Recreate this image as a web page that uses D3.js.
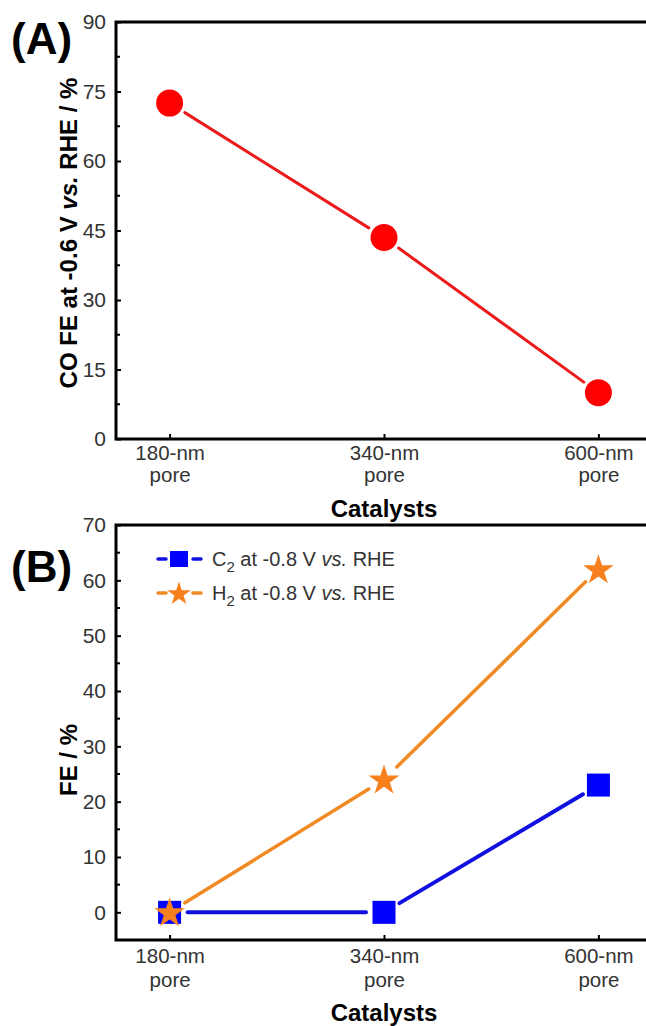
<!DOCTYPE html>
<html>
<head>
<meta charset="utf-8">
<script src="https://cdn.jsdelivr.net/npm/d3@7"></script>
<style>
  body { margin: 0; background: #fff; }
  svg { font-family: "Liberation Sans", Arial, sans-serif; }
  .tick text { fill: #333; font-size: 21px; }
</style>
</head>
<body>
<svg id="chart" width="646" height="1026"></svg>
<script>
var catalysts = ["180-nm pore", "340-nm pore", "600-nm pore"];
var coFE = [72.5, 43.5, 10];
var c2FE = [0, 0, 23];
var h2FE = [0, 24, 62];
var ticksA = [0, 15, 30, 45, 60, 75, 90];
var ticksB = [0, 10, 20, 30, 40, 50, 60, 70];

var svg = d3.select("#chart");

var x = d3.scalePoint().domain(catalysts).range([116, 652]).padding(0.25);

// lines stop short of the markers, like the original plot
function segments(g, vals, y, color, width) {
  for (var i = 0; i < vals.length - 1; i++) {
    var x1 = x(catalysts[i]), y1 = y(vals[i]);
    var x2 = x(catalysts[i + 1]), y2 = y(vals[i + 1]);
    var len = Math.hypot(x2 - x1, y2 - y1), gap = 18;
    var ux = (x2 - x1) / len, uy = (y2 - y1) / len;
    g.append("line")
      .attr("x1", x1 + ux * gap).attr("y1", y1 + uy * gap)
      .attr("x2", x2 - ux * gap).attr("y2", y2 - uy * gap)
      .attr("stroke", color).attr("stroke-width", width)
      .attr("stroke-linecap", "round");
  }
}

function frame(top, bottom, y, ticks, minor, l1, l2) {
  var g = svg.append("g");
  g.selectAll(".minor").data(minor).enter().append("line")
    .attr("x1", 116).attr("x2", 120)
    .attr("y1", d => y(d)).attr("y2", d => y(d))
    .attr("stroke", "#000").attr("stroke-width", 2);
  var ay = g.append("g").attr("transform", "translate(116,0)")
    .call(d3.axisLeft(y).tickValues(ticks).tickSize(-5).tickPadding(10));
  ay.select(".domain").remove();
  ay.selectAll(".tick line").attr("stroke-width", 2);
  var ax = g.append("g").attr("transform", "translate(0," + bottom + ")")
    .call(d3.axisBottom(x).tickSize(-5).tickFormat(""));
  ax.select(".domain").remove();
  ax.selectAll(".tick line").attr("stroke-width", 2);
  ax.selectAll(".tick").each(function (d) {
    var words = d.split(" ");
    var t = d3.select(this);
    t.append("text").attr("y", l1).attr("fill", "#333")
      .style("font-size", "20.5px").attr("text-anchor", "middle").text(words[0]);
    t.append("text").attr("y", l2).attr("fill", "#333")
      .style("font-size", "20.5px").attr("text-anchor", "middle").text(words[1]);
  });
  g.append("path")
    .attr("d", "M660," + top + "H116V" + bottom + "H660")
    .attr("fill", "none").attr("stroke", "#000").attr("stroke-width", 3);
  return g;
}

// ---- panel A ----
var yA = d3.scaleLinear().domain([0, 90]).range([439, 22]);
frame(22, 439, yA, ticksA, d3.range(7.5, 90, 15), 21, 43);
var gA = svg.append("g");
segments(gA, coFE, yA, "#ec1a1a", 3);
gA.selectAll("circle").data(coFE).enter().append("circle")
  .attr("cx", (d, i) => x(catalysts[i])).attr("cy", d => yA(d))
  .attr("r", 13.5).attr("fill", "#ff0000");

svg.append("text").attr("x", 11).attr("y", 54).attr("font-weight", "bold")
  .style("font-size", "44px").text("(A)");
svg.append("text").attr("transform", "translate(77,233) rotate(-90)")
  .attr("text-anchor", "middle").attr("font-weight", "bold").style("font-size", "24px")
  .html("CO FE at -0.6 V <tspan font-style='italic'>vs.</tspan> RHE / %");
svg.append("text").attr("x", 384).attr("y", 517).attr("text-anchor", "middle")
  .attr("font-weight", "bold").style("font-size", "24px").text("Catalysts");

// ---- panel B ----
var yB = d3.scaleLinear().domain([-5, 70]).range([940, 525]);
frame(525, 940, yB, ticksB, d3.range(5, 70, 10), 23, 47);
var gB = svg.append("g");
segments(gB, c2FE, yB, "#1010e0", 4);
segments(gB, h2FE, yB, "#f08a24", 3.5);
var sq = 23;
gB.selectAll("rect").data(c2FE).enter().append("rect")
  .attr("x", (d, i) => x(catalysts[i]) - sq / 2).attr("y", d => yB(d) - sq / 2)
  .attr("width", sq).attr("height", sq).attr("fill", "#0000ff");
var star = d3.symbol().type(d3.symbolStar).size(290);
gB.selectAll(".star").data(h2FE).enter().append("path")
  .attr("transform", (d, i) => "translate(" + x(catalysts[i]) + "," + (yB(d) + 1) + ")")
  .attr("d", star).attr("fill", "#f7801e");

svg.append("text").attr("x", 11).attr("y", 582).attr("font-weight", "bold")
  .style("font-size", "44px").text("(B)");
svg.append("text").attr("transform", "translate(77,760) rotate(-90)")
  .attr("text-anchor", "middle").attr("font-weight", "bold").style("font-size", "24px")
  .text("FE / %");
svg.append("text").attr("x", 384).attr("y", 1021).attr("text-anchor", "middle")
  .attr("font-weight", "bold").style("font-size", "24px").text("Catalysts");

// legend
var legend = [
  { name: "C", sub: "2", color: "#1010e0", fill: "#0000ff", type: "square", y: 559 },
  { name: "H", sub: "2", color: "#f08a24", fill: "#f7801e", type: "star", y: 593 }
];
legend.forEach(function (l) {
  var lg = svg.append("g");
  [[158, 166], [193, 201]].forEach(function (s) {
    lg.append("line").attr("x1", s[0]).attr("x2", s[1]).attr("y1", l.y).attr("y2", l.y)
      .attr("stroke", l.color).attr("stroke-width", 3.5).attr("stroke-linecap", "round");
  });
  if (l.type === "square") {
    lg.append("rect").attr("x", 170).attr("y", l.y - 8).attr("width", 18).attr("height", 16)
      .attr("fill", l.fill);
  } else {
    lg.append("path").attr("transform", "translate(179," + (l.y + 1) + ")")
      .attr("d", d3.symbol().type(d3.symbolStar).size(175)).attr("fill", l.fill);
  }
  lg.append("text").attr("x", 212).attr("y", l.y + 7).attr("fill", "#333")
    .style("font-size", "20px")
    .html(l.name + "<tspan dy='6' font-size='15px'>" + l.sub + "</tspan>" +
      "<tspan dy='-6'> at -0.8 V </tspan><tspan font-style='italic'>vs.</tspan> RHE");
});
</script>
</body>
</html>
